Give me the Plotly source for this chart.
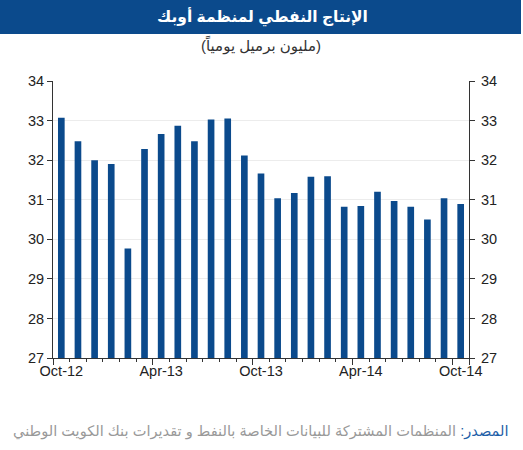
import plotly.graph_objects as go

months = ["Oct-12", "Nov-12", "Dec-12", "Jan-13", "Feb-13", "Mar-13", "Apr-13", "May-13",
          "Jun-13", "Jul-13", "Aug-13", "Sep-13", "Oct-13", "Nov-13", "Dec-13", "Jan-14",
          "Feb-14", "Mar-14", "Apr-14", "May-14", "Jun-14", "Jul-14", "Aug-14", "Sep-14", "Oct-14"]
production = [33.07, 32.48, 32.00, 31.90, 29.77, 32.28, 32.66, 32.87, 32.48, 33.03, 33.05, 32.12,
              31.66, 31.04, 31.17, 31.58, 31.59, 30.82, 30.84, 31.20, 30.97, 30.82, 30.50, 31.04, 30.89]

title_text = "الإنتاج النفطي لمنظمة أوبك"
subtitle_text = "(مليون برميل يومياً)"
source_label = "المصدر:"
source_text = " المنظمات المشتركة للبيانات الخاصة بالنفط و تقديرات بنك الكويت الوطني"
y_ticks = [27, 28, 29, 30, 31, 32, 33, 34]

BLUE = "#0b4a8c"
FONT = "Liberation Sans, Arial, DejaVu Sans, sans-serif"

xpos = list(range(len(months)))
label_idx = xpos[::6]
boundaries = [i - 0.5 for i in label_idx]

fig = go.Figure()
fig.add_trace(go.Bar(x=xpos, y=production, marker=dict(color=BLUE, line=dict(width=0)),
                     hoverinfo="skip", showlegend=False))
# invisible companion trace to anchor the secondary axes (right y-axis, major x ticks)
fig.add_trace(go.Scatter(x=xpos, y=production, xaxis="x2", yaxis="y2", mode="markers",
                         marker=dict(opacity=0), hoverinfo="skip", showlegend=False))

axis_font = dict(family=FONT, size=14.5, color="#222222")

fig.update_layout(
    width=523, height=450,
    margin=dict(l=53, r=54, t=81, b=92),
    paper_bgcolor="white", plot_bgcolor="white",
    bargap=0.6,
    xaxis=dict(range=[-0.5, len(months) - 0.5], tickvals=label_idx,
               ticktext=[months[i] for i in label_idx], ticks="", ticklen=0,
               showgrid=False, zeroline=False, showline=True, linecolor="#333333", linewidth=1,
               tickfont=axis_font,
               minor=dict(tickvals=[i - 0.5 for i in xpos] + [len(months) - 0.5], ticks="outside",
                          ticklen=3, tickcolor="#333333", showgrid=False)),
    xaxis2=dict(range=[-0.5, len(months) - 0.5], overlaying="x", side="bottom", anchor="y",
                tickvals=boundaries + [len(months) - 0.5], ticks="outside", ticklen=6,
                tickcolor="#333333", showticklabels=False, showgrid=False, zeroline=False,
                showline=False),
    yaxis=dict(range=[27, 34], tickvals=y_ticks, ticks="outside", ticklen=5, tickcolor="#333333",
               showline=True, linecolor="#333333", linewidth=1, gridcolor="#ececec",
               zeroline=False, tickfont=axis_font),
    yaxis2=dict(range=[27, 34], tickvals=y_ticks, overlaying="y", side="right", anchor="x",
                ticks="outside", ticklen=5, tickcolor="#333333", showline=True,
                linecolor="#333333", linewidth=1, showgrid=False, zeroline=False,
                tickfont=axis_font, ticklabelstandoff=3),
    shapes=[dict(type="rect", xref="paper", yref="paper", x0=-53 / 416, x1=(521 - 53) / 416,
                 y0=1 + (81 - 34) / 277, y1=1 + 81 / 277, fillcolor=BLUE,
                 line=dict(width=0), layer="below")],
    annotations=[
        dict(text="<b>" + title_text + "</b>", xref="paper", yref="paper",
             x=(262 - 53) / 416, y=1 + (81 - 17) / 277, xanchor="center", yanchor="middle",
             showarrow=False, font=dict(family=FONT, size=15.5, color="white")),
        dict(text=subtitle_text, xref="paper", yref="paper",
             x=(261 - 53) / 416, y=1 + (81 - 45) / 277, xanchor="center", yanchor="middle",
             showarrow=False, font=dict(family=FONT, size=15, color="#333333")),
        dict(text="<span style='color:#1f5fa8'>" + source_label + "</span>"
                  "<span style='color:#999999'>" + source_text + "</span>",
             xref="paper", yref="paper",
             x=(511 - 53) / 416, y=-(431 - 358) / 277, xanchor="right", yanchor="middle",
             showarrow=False, font=dict(family=FONT, size=14.6, color="#999999")),
    ],
)

fig.write_html("out.html")
